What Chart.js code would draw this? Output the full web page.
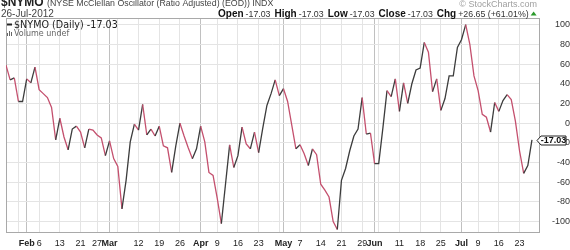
<!DOCTYPE html>
<html lang="en">
<head>
<meta charset="UTF-8">
<title>$NYMO McClellan Oscillator</title>
<script src="https://cdn.jsdelivr.net/npm/chart.js"></script>
<style>
  body { margin: 0; background: #fff; }
  #wrap { width: 570px; height: 250px; }
</style>
</head>
<body>
<div id="wrap"><canvas id="nymo" width="570" height="250"></canvas></div>
<script>
// trading days, 25-Jan-2012 .. 26-Jul-2012
const dates = [
  "1/25","1/26","1/27","1/30","1/31",
  "2/1","2/2","2/3","2/6","2/7","2/8","2/9","2/10","2/13","2/14","2/15","2/16","2/17","2/21","2/22","2/23","2/24","2/27","2/28","2/29",
  "3/1","3/2","3/5","3/6","3/7","3/8","3/9","3/12","3/13","3/14","3/15","3/16","3/19","3/20","3/21","3/22","3/23","3/26","3/27","3/28","3/29","3/30",
  "4/2","4/3","4/4","4/5","4/9","4/10","4/11","4/12","4/13","4/16","4/17","4/18","4/19","4/20","4/23","4/24","4/25","4/26","4/27","4/30",
  "5/1","5/2","5/3","5/4","5/7","5/8","5/9","5/10","5/11","5/14","5/15","5/16","5/17","5/18","5/21","5/22","5/23","5/24","5/25","5/29","5/30","5/31",
  "6/1","6/4","6/5","6/6","6/7","6/8","6/11","6/12","6/13","6/14","6/15","6/18","6/19","6/20","6/21","6/22","6/25","6/26","6/27","6/28","6/29",
  "7/2","7/3","7/5","7/6","7/9","7/10","7/11","7/12","7/13","7/16","7/17","7/18","7/19","7/20","7/23","7/24","7/25","7/26"
];
const nymo = [
  59, 44, 46, 22, 22,
  45, 41, 57, 34, 30, 26, 16, -17, 5, -14, -27, -6, -3, -9, -25, -6, -7, -12, -15, -33,
  -18, -36, -44, -87, -58, -19, -1, -7, 19, -12, -6, -13, -3, -23, -25, -50, -23, 0, -13, -25, -36, -26,
  -3, -19, -50, -53, -76, -102, -62, -22, -45, -33, -4, -21, -26, -9, -30, -5, 18, 30, 44, 28, 35,
  22, -2, -26, -22, -31, -43, -26, -32, -62, -68, -75, -100, -108, -58, -46, -28, -13, -6, 26, -11, -10,
  -41, -41, -5, 33, 27, 45, 12, 41, 20, 40, 54, 56, 82, 72, 32, 45, 13, 25, 48, 48, 77,
  85, 100, 80, 48, 33, 9, 6, -9, 21, 12, 23, 29, 24, 2, -28, -51, -43, -17.03
];
const weekStarts = ["1/30","2/6","2/13","2/21","2/27","3/5","3/12","3/19","3/26","4/9","4/16","4/23","4/30","5/7","5/14","5/21","5/29","6/4","6/11","6/18","6/25","7/9","7/16","7/23"];
const weekLabels = ["","6","13","21","27","","12","19","26","9","16","23","","7","14","21","29","","11","18","25","9","16","23"];
const monthStarts = ["2/1","3/1","4/2","5/1","6/1","7/2"];
const monthLabels = ["Feb","Mar","Apr","May","Jun","Jul"];
const yTicks = [-100, -80, -60, -40, -20, 0, 20, 40, 60, 80, 100];
const infoLabels = ["Open","High","Low","Close","Chg"];
const infoValues = ["-17.03","-17.03","-17.03","-17.03","+26.65 (+61.01%)"];

const UP = "#3c3c3c", DOWN = "#c4506e";
const FONT = "'Liberation Sans', Arial, sans-serif";

const xTicks = weekStarts.map((d, i) => ({ value: dates.indexOf(d), label: weekLabels[i], month: false }))
  .concat(monthStarts.map((d, i) => ({ value: dates.indexOf(d), label: monthLabels[i], month: true })))
  .sort((a, b) => a.value - b.value);

const last = nymo[nymo.length - 1];

const decor = {
  id: "decor",
  beforeDatasetsDraw(chart) {
    const { ctx, chartArea: a } = chart;
    ctx.save();
    ctx.strokeStyle = "#a9a9a9";
    ctx.lineWidth = 1;
    ctx.strokeRect(Math.floor(a.left) + 0.5, Math.floor(a.top) + 0.5,
      Math.round(a.right - a.left), Math.round(a.bottom - a.top));
    ctx.restore();
  },
  afterDraw(chart) {
    const { ctx, chartArea: a } = chart;
    ctx.save();
    ctx.textBaseline = "alphabetic";

    // title
    ctx.fillStyle = "#222";
    ctx.font = "bold 12px " + FONT;
    ctx.fillText("$NYMO", 1, 6);
    let x = 1 + ctx.measureText("$NYMO ").width;
    ctx.font = "8.8px " + FONT;
    ctx.fillStyle = "#444";
    ctx.fillText("(NYSE McClellan Oscillator (Ratio Adjusted) (EOD)) INDX", x, 6);
    ctx.font = "10px " + FONT;
    ctx.fillText("26-Jul-2012", 1, 16.5);

    // open/high/low/close line
    x = 218;
    infoLabels.forEach((lab, i) => {
      ctx.font = "bold 10px " + FONT;
      ctx.fillStyle = "#111";
      ctx.fillText(lab, x, 16.5);
      x += ctx.measureText(lab).width + 2;
      ctx.font = "8.8px " + FONT;
      ctx.fillStyle = "#333";
      ctx.fillText(infoValues[i], x, 16.5);
      x += ctx.measureText(infoValues[i]).width + 4;
    });
    ctx.fillStyle = "#2a9a2a";
    ctx.beginPath();
    ctx.moveTo(x - 2, 15.5); ctx.lineTo(x + 1, 11.5); ctx.lineTo(x + 4, 15.5);
    ctx.closePath(); ctx.fill();

    ctx.font = "9px " + FONT;
    ctx.fillStyle = "#a0a0a0";
    ctx.textAlign = "right";
    ctx.fillText("\u00a9 StockCharts.com", 537, 6.5);
    ctx.textAlign = "left";

    // legend
    ctx.strokeStyle = "#222";
    ctx.lineWidth = 2;
    ctx.beginPath(); ctx.moveTo(7, 24.5); ctx.lineTo(12, 24.5); ctx.stroke();
    ctx.fillStyle = "#222";
    ctx.font = "9.6px 'DejaVu Sans', sans-serif";
    ctx.fillText("$NYMO (Daily) " + last.toFixed(2), 14, 27.5);
    ctx.fillStyle = "#666";
    ctx.fillRect(7, 33, 1, 3); ctx.fillRect(9, 31, 1, 5); ctx.fillRect(11, 32, 1, 4);
    ctx.font = "8px 'DejaVu Sans', sans-serif";
    ctx.fillText("Volume undef", 14, 36);

    // last value tag
    const y = Math.round(chart.scales.y.getPixelForValue(last)) + 0.5;
    const r = a.right;
    ctx.beginPath();
    ctx.moveTo(r - 2, y);
    ctx.lineTo(r + 2, y - 4.5);
    ctx.lineTo(r + 27, y - 4.5);
    ctx.lineTo(r + 27, y + 4.5);
    ctx.lineTo(r + 2, y + 4.5);
    ctx.closePath();
    ctx.fillStyle = "#fff"; ctx.fill();
    ctx.strokeStyle = "#222"; ctx.lineWidth = 1; ctx.stroke();
    ctx.fillStyle = "#111";
    ctx.font = "bold 9px " + FONT;
    ctx.textAlign = "center";
    ctx.textBaseline = "middle";
    ctx.fillText(last.toFixed(2), r + 14.5, y + 0.5);
    ctx.restore();
  }
};

new Chart(document.getElementById("nymo"), {
  type: "line",
  data: {
    datasets: [{
      data: nymo.map((v, i) => ({ x: i, y: v })),
      borderColor: UP,
      borderWidth: 1.3,
      pointRadius: 0,
      tension: 0,
      segment: {
        borderColor: c => (c.p1.parsed.y < c.p0.parsed.y ? DOWN : UP)
      }
    }]
  },
  options: {
    responsive: false,
    animation: false,
    devicePixelRatio: 1,
    layout: { padding: { left: 6, top: 18, right: 0, bottom: 0 } },
    plugins: { legend: { display: false }, tooltip: { enabled: false } },
    scales: {
      x: {
        type: "linear",
        min: 0,
        max: 128.7,
        afterBuildTicks: s => { s.ticks = xTicks.map(t => ({ value: t.value, month: t.month })); },
        afterFit: s => { s.height = 18; },
        grid: {
          drawTicks: false,
          color: c => (c.tick && c.tick.month ? "#c0c0c0" : "#e4e4e4")
        },
        border: { display: false },
        ticks: {
          autoSkip: false,
          maxRotation: 0,
          padding: 6,
          color: "#222",
          font: c => ({ family: FONT, size: 9, weight: c.tick && c.tick.month ? "bold" : "normal" }),
          callback: v => { const t = xTicks.find(k => k.value === v); return t ? t.label : ""; }
        }
      },
      y: {
        position: "right",
        min: -110.5,
        max: 106.8,
        afterBuildTicks: s => { s.ticks = yTicks.map(v => ({ value: v })); },
        afterFit: s => { s.width = 31; },
        grid: { drawTicks: false, color: "#e4e4e4" },
        border: { display: false },
        ticks: {
          crossAlign: "far",
          padding: 1,
          color: "#333",
          font: { family: FONT, size: 9 }
        }
      }
    }
  },
  plugins: [decor]
});
</script>
</body>
</html>
